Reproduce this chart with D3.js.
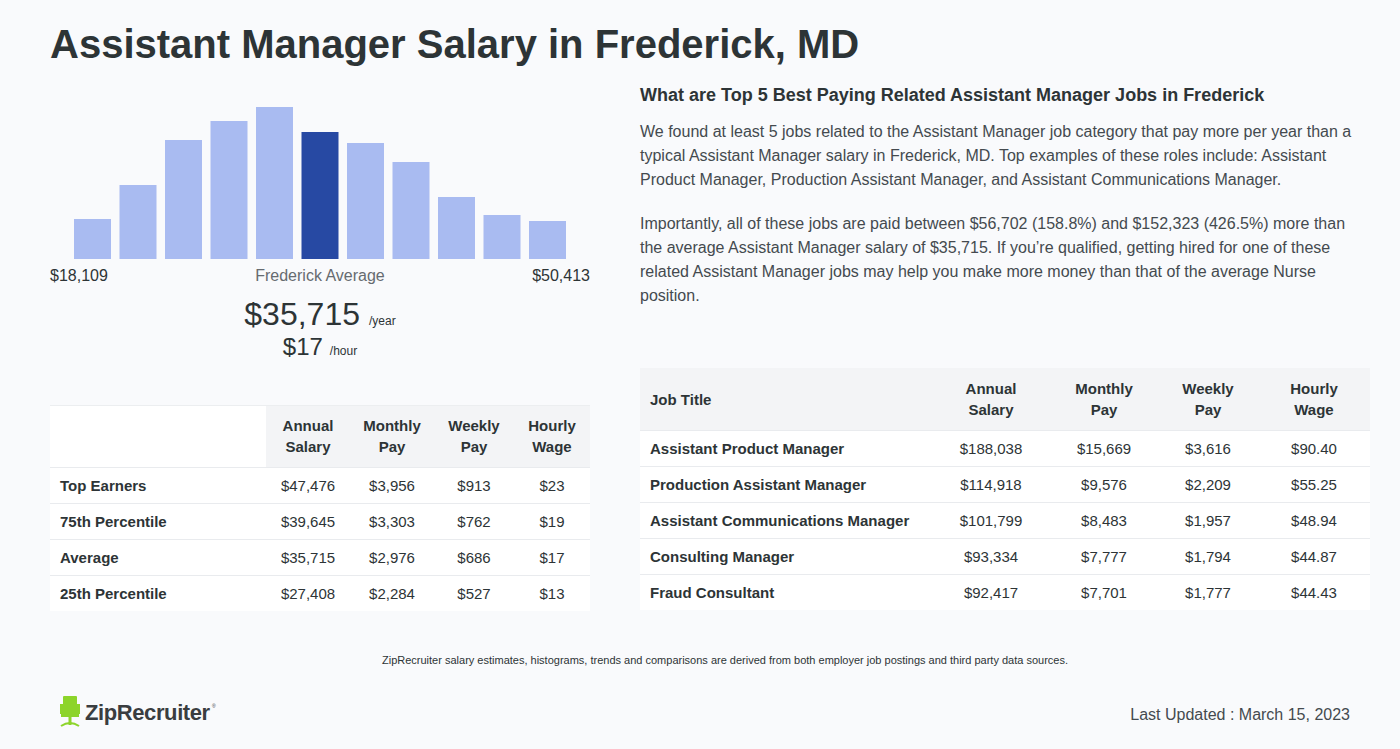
<!DOCTYPE html>
<html><head><meta charset="utf-8">
<script src="https://cdn.jsdelivr.net/npm/d3@7"></script>
<style>
html,body{margin:0;padding:0;background:#f9fafc;}
svg{display:block;font-family:"Liberation Sans",Arial,Helvetica,sans-serif;}
</style></head>
<body><svg id="c" width="1400" height="749"></svg>
<script>
// ---- data ----
const histBins = ["b1","b2","b3","b4","b5","b6","b7","b8","b9","b10","b11"];
const histCounts = [40,74,119,138,152,127,116,97,62,44,38];
const avgBinIndex = 5;
const rangeLow = "$18,109", rangeHigh = "$50,413";
const avgYear = "$35,715", avgHour = "$17";

const leftCols = ["Annual\nSalary","Monthly\nPay","Weekly\nPay","Hourly\nWage"];
const leftRows = ["Top Earners","75th Percentile","Average","25th Percentile"];
const leftAnnual = ["$47,476","$39,645","$35,715","$27,408"];
const leftMonthly = ["$3,956","$3,303","$2,976","$2,284"];
const leftWeekly = ["$913","$762","$686","$527"];
const leftHourly = ["$23","$19","$17","$13"];

const rightCols = ["Annual\nSalary","Monthly\nPay","Weekly\nPay","Hourly\nWage"];
const jobTitles = ["Assistant Product Manager","Production Assistant Manager","Assistant Communications Manager","Consulting Manager","Fraud Consultant"];
const jobAnnual = ["$188,038","$114,918","$101,799","$93,334","$92,417"];
const jobMonthly = ["$15,669","$9,576","$8,483","$7,777","$7,701"];
const jobWeekly = ["$3,616","$2,209","$1,957","$1,794","$1,777"];
const jobHourly = ["$90.40","$55.25","$48.94","$44.87","$44.43"];

const para1 = ["We found at least 5 jobs related to the Assistant Manager job category that pay more per year than a",
"typical Assistant Manager salary in Frederick, MD. Top examples of these roles include: Assistant",
"Product Manager, Production Assistant Manager, and Assistant Communications Manager."];
const para2 = ["Importantly, all of these jobs are paid between $56,702 (158.8%) and $152,323 (426.5%) more than",
"the average Assistant Manager salary of $35,715. If you\u2019re qualified, getting hired for one of these",
"related Assistant Manager jobs may help you make more money than that of the average Nurse",
"position."];

const svg = d3.select("#c");
const dark = "#2d3436", mid = "#444a4f";
svg.append("rect").attr("width",1400).attr("height",749).attr("fill","#f9fafc");

// title
svg.append("text").attr("x",50).attr("y",58).attr("font-size",40).attr("font-weight","bold")
  .attr("fill",dark).text("Assistant Manager Salary in Frederick, MD");

// histogram
const x = d3.scaleBand().domain(histBins).range([69.75,570.25]).paddingInner(0.187).paddingOuter(0.0935);
const y = d3.scaleLinear().domain([0,d3.max(histCounts)]).range([259,107]);
svg.append("g").selectAll("rect").data(histCounts).join("rect")
  .attr("x",(d,i)=>x(histBins[i])).attr("width",x.bandwidth())
  .attr("y",d=>y(d)).attr("height",d=>259-y(d))
  .attr("fill",(d,i)=>i===avgBinIndex?"#2749a3":"#a9bbf1");

svg.append("text").attr("x",50).attr("y",281).attr("font-size",16).attr("fill",dark).text(rangeLow);
svg.append("text").attr("x",590).attr("y",281).attr("font-size",16).attr("fill",dark).attr("text-anchor","end").text(rangeHigh);
svg.append("text").attr("x",320).attr("y",281).attr("font-size",16).attr("fill","#666b70").attr("text-anchor","middle").text("Frederick Average");

const yl = svg.append("text").attr("x",320).attr("y",325).attr("text-anchor","middle").attr("fill",dark);
yl.append("tspan").attr("font-size",32).text(avgYear);
yl.append("tspan").attr("font-size",12).attr("dx",9).text("/year");
const hl = svg.append("text").attr("x",320).attr("y",355).attr("text-anchor","middle").attr("fill",dark);
hl.append("tspan").attr("font-size",24).text(avgHour);
hl.append("tspan").attr("font-size",12).attr("dx",7).text("/hour");

// left table
const lt = svg.append("g");
lt.append("rect").attr("x",50).attr("y",405).attr("width",540).attr("height",206).attr("fill","#ffffff");
lt.append("rect").attr("x",266).attr("y",405).attr("width",324).attr("height",62).attr("fill","#f3f4f6");
lt.append("line").attr("x1",50).attr("x2",590).attr("y1",405.5).attr("y2",405.5).attr("stroke","#eceef0");
const lColX = [308,392,474,552];
leftCols.forEach((c,i)=>{
  const t = lt.append("text").attr("x",lColX[i]).attr("y",431).attr("text-anchor","middle")
    .attr("font-size",15).attr("font-weight","bold").attr("fill",dark);
  c.split("\n").forEach((s,j)=>t.append("tspan").attr("x",lColX[i]).attr("dy",j?21:0).text(s));
});
const lVals = [leftAnnual,leftMonthly,leftWeekly,leftHourly];
leftRows.forEach((r,i)=>{
  const top = 467+i*36;
  lt.append("line").attr("x1",50).attr("x2",590).attr("y1",top+0.5).attr("y2",top+0.5).attr("stroke","#e9ebee");
  lt.append("text").attr("x",60).attr("y",top+24).attr("font-size",15).attr("font-weight","bold").attr("fill",dark).text(r);
  lVals.forEach((arr,k)=>lt.append("text").attr("x",lColX[k]).attr("y",top+24).attr("text-anchor","middle")
    .attr("font-size",15).attr("fill",dark).text(arr[i]));
});

// right text
svg.append("text").attr("x",640).attr("y",101).attr("font-size",18).attr("font-weight","bold").attr("fill",dark)
  .text("What are Top 5 Best Paying Related Assistant Manager Jobs in Frederick");
para1.forEach((s,i)=>svg.append("text").attr("x",640).attr("y",137+i*24).attr("font-size",16).attr("fill",mid).text(s));
para2.forEach((s,i)=>svg.append("text").attr("x",640).attr("y",229+i*24).attr("font-size",16).attr("fill",mid).text(s));

// right table
const rt = svg.append("g");
rt.append("rect").attr("x",640).attr("y",368).attr("width",730).attr("height",242).attr("fill","#ffffff");
rt.append("rect").attr("x",640).attr("y",368).attr("width",730).attr("height",62).attr("fill","#f3f4f6");
rt.append("text").attr("x",650).attr("y",405).attr("font-size",15).attr("font-weight","bold").attr("fill",dark).text("Job Title");
const rColX = [991,1104,1208,1314];
rightCols.forEach((c,i)=>{
  const t = rt.append("text").attr("x",rColX[i]).attr("y",394).attr("text-anchor","middle")
    .attr("font-size",15).attr("font-weight","bold").attr("fill",dark);
  c.split("\n").forEach((s,j)=>t.append("tspan").attr("x",rColX[i]).attr("dy",j?21:0).text(s));
});
const rVals = [jobAnnual,jobMonthly,jobWeekly,jobHourly];
jobTitles.forEach((r,i)=>{
  const top = 430+i*36;
  rt.append("line").attr("x1",640).attr("x2",1370).attr("y1",top+0.5).attr("y2",top+0.5).attr("stroke","#e9ebee");
  rt.append("text").attr("x",650).attr("y",top+24).attr("font-size",15).attr("font-weight","bold").attr("fill",dark).text(r);
  rVals.forEach((arr,k)=>rt.append("text").attr("x",rColX[k]).attr("y",top+24).attr("text-anchor","middle")
    .attr("font-size",15).attr("fill",dark).text(arr[i]));
});

// footer
svg.append("text").attr("x",725).attr("y",664).attr("text-anchor","middle").attr("font-size",11).attr("fill",dark)
  .text("ZipRecruiter salary estimates, histograms, trends and comparisons are derived from both employer job postings and third party data sources.");
svg.append("text").attr("x",1350).attr("y",720).attr("text-anchor","end").attr("font-size",16).attr("fill",mid)
  .text("Last Updated : March 15, 2023");

// logo
const lg = svg.append("g").attr("transform","translate(60,696)");
const g1 = "#8dd42b";
lg.append("rect").attr("x",3).attr("y",0).attr("width",14).attr("height",19).attr("rx",1).attr("fill",g1);
lg.append("rect").attr("x",0).attr("y",8).attr("width",3).attr("height",10).attr("fill",g1);
lg.append("rect").attr("x",17).attr("y",8).attr("width",3).attr("height",10).attr("fill",g1);
lg.append("rect").attr("x",1).attr("y",18).attr("width",18).attr("height",3).attr("fill",g1);
lg.append("rect").attr("x",8.5).attr("y",21).attr("width",3).attr("height",8).attr("fill",g1);
lg.append("path").attr("d","M1,30 Q10,24 19,30").attr("fill","none").attr("stroke",g1).attr("stroke-width",2);
lg.append("text").attr("x",25).attr("y",24).attr("font-size",22).attr("font-weight","bold").attr("fill","#3a3d40")
  .attr("letter-spacing",-0.4).text("ZipRecruiter");
lg.append("text").attr("x",152).attr("y",12).attr("font-size",5).attr("fill","#3a3d40").text("\u00ae");
</script></body></html>
